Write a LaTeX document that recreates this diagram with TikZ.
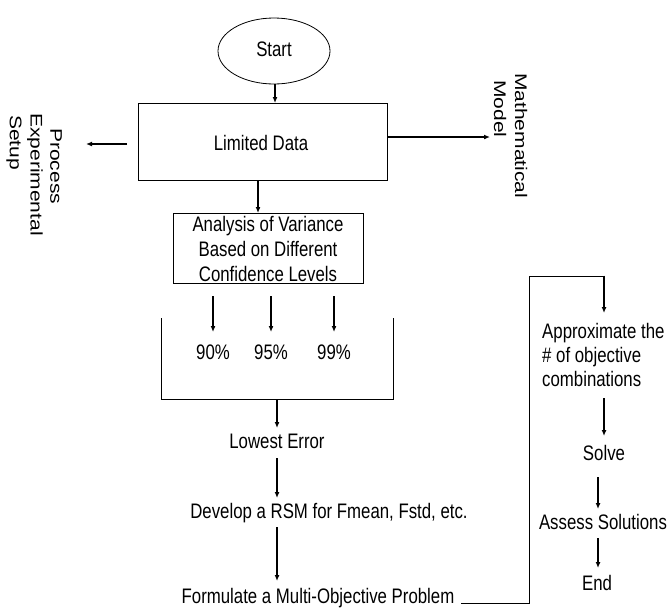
\documentclass[tikz,border=0pt]{standalone}
\usepackage{fontspec}
\setmainfont{Liberation Sans}[FakeStretch=0.8]
\newfontfamily\rotfont{Liberation Sans}
\usetikzlibrary{arrows.meta,shapes.geometric}
\newcommand{\sidetext}[1]{\scalebox{0.8}[1]{\rotatebox{-90}{\rotfont\fontsize{21}{25}\selectfont #1}}}
\begin{document}
\begin{tikzpicture}[x=1pt,y=-1pt,
  every node/.style={font=\fontsize{21}{25}\selectfont, inner sep=0pt},
  box/.style={draw, line width=0.8pt, rectangle},
  arr/.style={line width=1.2pt, -{Latex[length=6pt,width=5pt]}},
  ln/.style={line width=0.8pt},
  txt/.style={align=center},
  side/.style={anchor=north}]
\useasboundingbox (0,0) rectangle (669,611);
% start
\node[draw, ellipse, line width=0.8pt, minimum width=112pt, minimum height=66pt] (start) at (274,51) {};
\node (startt) at (274,49) {Start};
% limited data
\node[box, minimum width=249pt, minimum height=77pt] (ld) at (262.5,141.5) {};
\node (ldt) at (261,143) {Limited Data};
\draw[arr] (275,84) -- (275,103);
% side texts
\node[side] (proc1) at (56,128) {\sidetext{Process}};
\node[side] (proc2) at (35,113) {\sidetext{Experimental}};
\node[side] (proc3) at (14,115) {\sidetext{Setup}};
\node[side] (math1) at (521,73) {\sidetext{Mathematical}};
\node[side] (math2) at (500,80) {\sidetext{Model}};
\coordinate (la) at (127,144);
\coordinate (lb) at (86,144);
\draw[arr] (la) -- (lb);
\coordinate (ra) at (387,137);
\coordinate (rb) at (490,137);
\draw[arr] (ra) -- (rb);
% anova
\node[box, minimum width=190pt, minimum height=70pt] (anova) at (268,248) {};
\node[txt, font=\fontsize{21}{25}\selectfont] (anovat) at (268,249) {Analysis of Variance\\Based on Different\\Confidence Levels};
\draw[arr] (258,180) -- (258,213);
% three arrows and percentages
\node (p90) at (213,352) {90\%};
\node (p95) at (271,352) {95\%};
\node (p99) at (334,352) {99\%};
\draw[arr] (213,296) -- (213,332);
\draw[arr] (271,296) -- (271,332);
\draw[arr] (334,296) -- (334,332);
% bracket
\draw[ln] (161,318) -- (161,399) -- (393,399) -- (393,318);
\coordinate (bb) at (277,399);
% chain
\node (low) at (277,441) {Lowest Error};
\draw[arr] (bb) -- (277,428);
\node (dev) at (329,513) {Develop a RSM for Fmean, Fstd, etc.};
\draw[arr] (277,458) -- (277,498);
\node (form) at (318,598) {Formulate a Multi-Objective Problem};
\draw[arr] (277,527) -- (277,581);
% connector to right column
\draw[ln] (461,603) -- (529,603) -- (529,276) -- (604,276);
\draw[arr] (604,275.6) -- (604,313);
% right column
\node[align=left, anchor=north west, font=\fontsize{21}{24}\selectfont] (approx) at (542,323) {Approximate the\\\# of objective\\combinations};
\draw[arr] (604,398) -- (604,436);
\node (solve) at (604,453) {Solve};
\draw[arr] (598,477) -- (598,509);
\node (assess) at (603,522) {Assess Solutions};
\draw[arr] (598,538) -- (598,568);
\node (end) at (597,583) {End};
\end{tikzpicture}
\end{document}
